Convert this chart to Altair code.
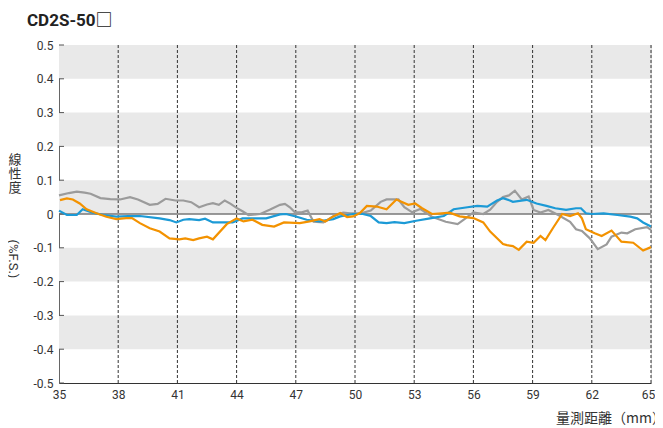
import altair as alt
import pandas as pd

# ---- data ----
grey_x = [35.0, 35.5, 35.9, 36.3, 36.6, 37.1, 37.6, 38.1, 38.6, 39.0, 39.6, 40.0, 40.4, 40.9, 41.3, 41.7,
          42.1, 42.5, 42.8, 43.1, 43.4, 43.7, 44.0, 44.3, 44.6, 45.2, 45.7, 46.2, 46.45, 46.7, 46.96, 47.3,
          47.6, 47.9, 48.4, 48.9, 49.4, 49.75, 50.3, 50.8, 51.3, 51.6, 52.2, 52.5, 52.9, 53.3, 53.9, 54.6,
          55.2, 55.6, 56.0, 56.5, 56.85, 57.2, 57.5, 57.8, 58.1, 58.45, 58.8, 59.05, 59.4, 59.8, 60.3, 60.9,
          61.2, 61.5, 61.9, 62.3, 62.75, 63.0, 63.5, 63.8, 64.2, 64.8, 65.0]
grey_y = [0.055, 0.062, 0.066, 0.063, 0.060, 0.047, 0.044, 0.043, 0.050, 0.043, 0.027, 0.030, 0.045, 0.040, 0.040, 0.035,
          0.020, 0.028, 0.032, 0.027, 0.040, 0.030, 0.018, 0.008, -0.003, 0.000, 0.013, 0.027, 0.030, 0.020, 0.005, 0.005,
          0.010, -0.023, -0.025, -0.007, 0.004, 0.002, 0.002, 0.010, 0.036, 0.043, 0.043, 0.020, 0.005, 0.015, -0.008, -0.023,
          -0.030, -0.013, 0.005, 0.000, 0.013, 0.036, 0.050, 0.055, 0.069, 0.043, 0.052, 0.012, 0.004, 0.012, -0.003, -0.023,
          -0.045, -0.050, -0.072, -0.104, -0.090, -0.067, -0.055, -0.057, -0.045, -0.039, -0.047]

blue_x = [35.0, 35.4, 35.9, 36.2, 36.7, 37.25, 37.9, 38.5, 39.1, 40.1, 40.6, 40.95, 41.3, 41.6, 42.1, 42.4,
          42.8, 43.8, 44.3, 45.5, 46.2, 46.5, 47.05, 47.55, 48.2, 48.9, 49.25, 49.9, 50.4, 50.8, 51.2, 51.6,
          52.0, 52.5, 53.1, 53.8, 54.5, 55.0, 55.7, 56.2, 56.7, 57.2, 57.5, 57.85, 58.0, 58.7, 59.2, 59.7,
          60.15, 60.7, 61.2, 61.45, 61.7, 62.0, 62.6, 63.3, 63.95, 64.3, 64.6, 65.0]
blue_y = [0.010, -0.003, -0.003, 0.014, 0.004, -0.003, -0.008, -0.006, -0.006, -0.013, -0.018, -0.025, -0.017, -0.015, -0.018, -0.014,
          -0.025, -0.025, -0.013, -0.013, -0.001, 0.000, -0.008, -0.017, -0.022, -0.015, -0.007, 0.000, 0.000, -0.006, -0.025, -0.027,
          -0.024, -0.027, -0.020, -0.013, -0.006, 0.014, 0.020, 0.024, 0.022, 0.040, 0.047, 0.040, 0.036, 0.042, 0.031, 0.024,
          0.017, 0.012, 0.017, 0.017, 0.002, 0.000, 0.002, -0.003, -0.008, -0.013, -0.025, -0.037]

orange_x = [35.05, 35.4, 35.7, 36.05, 36.4, 36.9, 37.4, 37.9, 38.4, 38.7, 39.1, 39.6, 40.1, 40.6, 41.1, 41.4,
            41.8, 42.1, 42.5, 42.8, 43.5, 44.0, 44.35, 44.8, 45.3, 45.9, 46.4, 47.2, 47.7, 48.2, 48.5, 48.9,
            49.25, 49.6, 49.9, 50.25, 50.6, 51.1, 51.6, 52.1, 52.7, 53.05, 53.4, 53.9, 54.4, 54.8, 55.3, 56.0,
            56.5, 56.85, 57.2, 57.5, 57.7, 58.0, 58.3, 58.7, 59.05, 59.4, 59.65, 60.05, 60.5, 60.9, 61.3, 61.5,
            61.7, 62.15, 62.5, 63.0, 63.5, 64.1, 64.6, 65.0]
orange_y = [0.041, 0.046, 0.043, 0.031, 0.014, 0.002, -0.008, -0.015, -0.012, -0.012, -0.027, -0.042, -0.052, -0.072, -0.075, -0.072,
            -0.077, -0.072, -0.067, -0.075, -0.030, -0.013, -0.022, -0.017, -0.032, -0.037, -0.025, -0.027, -0.022, -0.015, -0.022, -0.007,
            0.003, -0.009, -0.007, 0.003, 0.024, 0.022, 0.014, 0.043, 0.027, 0.031, 0.017, 0.000, 0.002, 0.004, -0.007, -0.012,
            -0.025, -0.052, -0.072, -0.089, -0.092, -0.095, -0.106, -0.082, -0.085, -0.065, -0.077, -0.040, 0.000, -0.006, 0.002, -0.013,
            -0.045, -0.057, -0.065, -0.049, -0.082, -0.085, -0.108, -0.098]

series_names = ["grey", "blue", "orange"]
series_colors = ["#9b9b9b", "#1c9ad6", "#f39200"]

x_ticks = [35, 38, 41, 44, 47, 50, 53, 56, 59, 62, 65]
dash_x = [38, 41, 44, 47, 50, 53, 56, 59, 62, 65]
y_ticks = [0.5, 0.4, 0.3, 0.2, 0.1, 0.0, -0.1, -0.2, -0.3, -0.4, -0.5]
band_lo = [0.4, 0.2, 0.0, -0.2, -0.4]
band_hi = [0.5, 0.3, 0.1, -0.1, -0.3]

title_text = "CD2S-50□"
ylab_chars = ["線", "性", "度"]
ylab_unit = "(%F.S.)"
xlab_text = "量測距離（mm）"

W, H = 592, 338
FONT = "Roboto"

rows = []
for name, xs, ys in [("grey", grey_x, grey_y), ("blue", blue_x, blue_y), ("orange", orange_x, orange_y)]:
    for a, b in zip(xs, ys):
        rows.append({"s": name, "x": a, "y": b})
df = pd.DataFrame(rows)

xscale = alt.Scale(domain=[35, 65], nice=False, zero=False)
yscale = alt.Scale(domain=[-0.5, 0.5], nice=False)

xax = alt.Axis(values=x_ticks, title=None, ticks=False, grid=False, domainColor="#333333",
               labelFont=FONT, labelFontSize=12, labelColor="#333333", labelPadding=6,
               labelFlush=False, labelOverlap=False,
               labelOffset={"condition": {"test": "datum.value >= 65", "value": -3}, "value": 0})
yax = alt.Axis(values=y_ticks, title=None, ticks=False, grid=False, domainColor="#666666",
               labelFont=FONT, labelFontSize=12, labelColor="#333333", labelPadding=6,
               labelFlush=False, labelOverlap=False,
               labelExpr="toString(round(datum.value*10)/10)")

bands = alt.Chart(pd.DataFrame({"lo": band_lo, "hi": band_hi})).mark_rect(color="#e9e9e9").encode(
    x=alt.value(0), x2=alt.value(W),
    y=alt.Y("hi:Q", scale=yscale, axis=yax), y2="lo:Q")

dashes = alt.Chart(pd.DataFrame({"x": dash_x})).mark_rule(
    color="#333333", strokeDash=[3, 2], strokeWidth=1).encode(
    x=alt.X("x:Q", scale=xscale, axis=xax), y=alt.value(0), y2=alt.value(H))

zero = alt.Chart(pd.DataFrame({"y": [0.0]})).mark_rule(color="#777777", strokeWidth=1.5).encode(
    y=alt.Y("y:Q", scale=yscale, axis=yax), x=alt.value(0), x2=alt.value(W))

yticks_in = alt.Chart(pd.DataFrame({"y": y_ticks})).mark_rule(color="#555555", strokeWidth=1).encode(
    y=alt.Y("y:Q", scale=yscale, axis=yax), x=alt.value(0), x2=alt.value(5))

lines = alt.Chart(df).mark_line(strokeWidth=2.2).encode(
    x=alt.X("x:Q", scale=xscale, axis=xax),
    y=alt.Y("y:Q", scale=yscale, axis=yax),
    color=alt.Color("s:N", scale=alt.Scale(domain=series_names, range=series_colors), legend=None),
    order=alt.Order("x:Q"),
    detail="s:N")

title = alt.Chart(pd.DataFrame({"t": [title_text]})).mark_text(
    align="left", baseline="alphabetic", font="Roboto, 'Noto Sans CJK JP'", fontSize=17, fontWeight="bold",
    color="#222222").encode(
    text="t:N", x=alt.value(-32), y=alt.value(-19))

ylab_layers = []
for ch, yy in zip(ylab_chars, [115, 129, 143]):
    ylab_layers.append(alt.Chart(pd.DataFrame({"t": [ch]})).mark_text(
        align="center", baseline="middle", font="Noto Sans CJK TC", fontSize=13, color="#333333").encode(
        text="t:N", x=alt.value(-44), y=alt.value(yy)))

yunit = alt.Chart(pd.DataFrame({"t": [ylab_unit]})).mark_text(
    align="center", baseline="middle", font=FONT, fontSize=13, angle=90, color="#333333").encode(
    text="t:N", x=alt.value(-46), y=alt.value(214))

xlab = alt.Chart(pd.DataFrame({"t": [xlab_text]})).mark_text(
    align="left", baseline="middle", font="Noto Sans CJK TC", fontSize=14, color="#333333").encode(
    text="t:N", x=alt.value(497), y=alt.value(374))

chart = alt.layer(bands, dashes, zero, yticks_in, lines, title, *ylab_layers, yunit, xlab).properties(
    width=W, height=H,
    autosize=alt.AutoSizeParams(type="none"),
    padding={"left": 51, "top": 37, "right": 4, "bottom": 45},
).configure_view(stroke=None).configure(background="white")

chart.save("out.html", embed_options={"renderer": "svg", "actions": False})
